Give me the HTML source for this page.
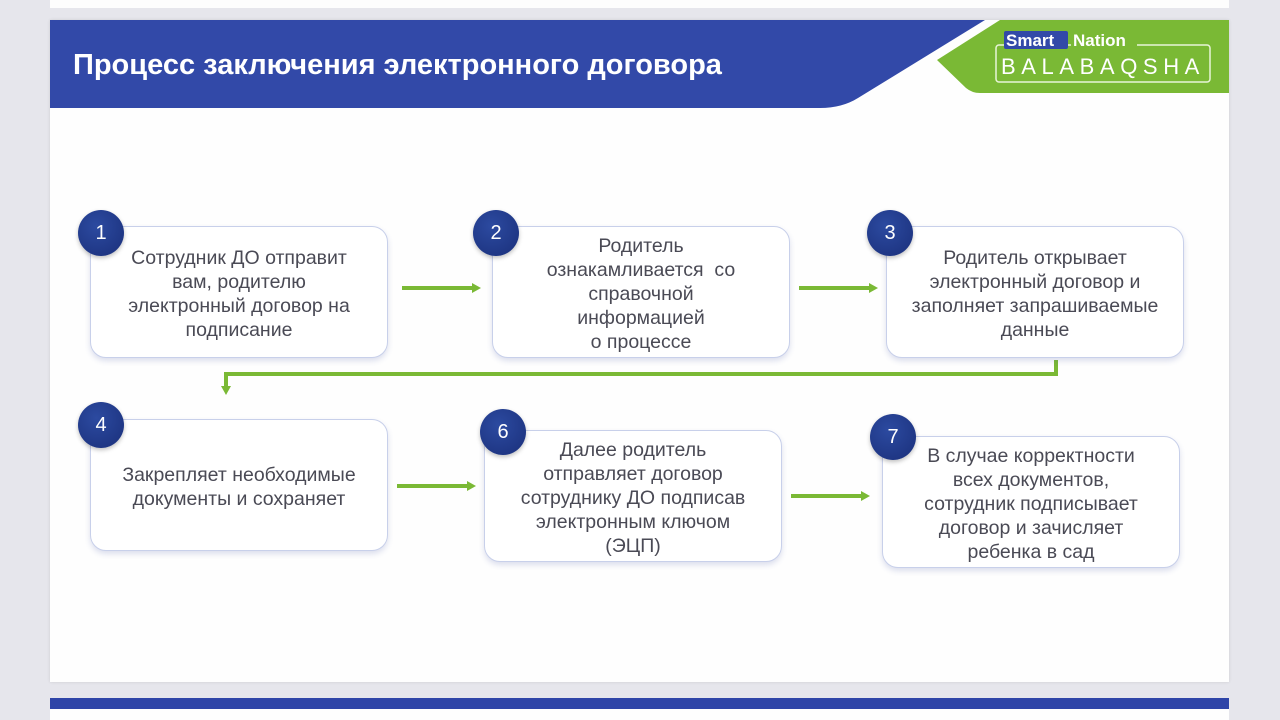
<!DOCTYPE html>
<html><head><meta charset="utf-8"><style>
*{margin:0;padding:0;box-sizing:border-box}
body{width:1280px;height:720px;background:#e6e6ec;position:relative;overflow:hidden;font-family:"Liberation Sans",sans-serif}
.top{position:absolute;left:50px;top:0;width:1179px;height:8px;background:#fdfdfd}
.slide{position:absolute;left:50px;top:20px;width:1179px;height:662px;background:#fefefe;box-shadow:0 0 3px rgba(0,0,0,.12)}
.bot{position:absolute;left:50px;top:698px;width:1179px;height:22px;background:#fefefe}
.band{position:absolute;left:50px;top:698px;width:1179px;height:11px;background:#2f45a8}
.title{position:absolute;left:73px;top:49px;color:#fff;font-weight:bold;font-size:29px;white-space:nowrap}
.box{position:absolute;width:298px;height:132px;border:1.5px solid #c8d0ea;border-radius:16px;background:#fff;box-shadow:0 3px 6px rgba(60,80,160,.18);display:flex;align-items:center;justify-content:center;text-align:center;color:#4a4a55;font-size:19.5px;line-height:24px;padding:4px 0 0;white-space:nowrap}
.c{position:absolute;width:46px;height:46px;border-radius:50%;background:radial-gradient(circle at 40% 35%,#2c4aa0,#1a2f7a);color:#fff;font-size:20px;display:flex;align-items:center;justify-content:center;box-shadow:0 2px 4px rgba(0,0,0,.25)}
</style></head><body>
<div class="top"></div>
<div class="slide"></div>
<div class="bot"></div><div class="band"></div>
<svg style="position:absolute;left:0;top:0" width="1280" height="720">
<path d="M50 20 L985 20 L858 98 Q842 108 820 108 L50 108 Z" fill="#3249a8"/>
<path d="M1000 20 L1229 20 L1229 93 L980 93 Q972 93 966 88 L937 60 Z" fill="#7ab935"/>
<rect x="996" y="45" width="214" height="37" rx="3" fill="none" stroke="#e8f5d8" stroke-width="1.5"/>
<rect x="1004" y="31" width="64" height="18" rx="2" fill="#3249a8"/>
<text x="1006" y="46" font-family="Liberation Sans" font-size="17" font-weight="bold" fill="#fff">Smart</text>
<rect x="1071" y="38" width="66" height="10" fill="#7ab935"/>
<text x="1073" y="46" font-family="Liberation Sans" font-size="17" font-weight="bold" fill="#fff">Nation</text>
<text x="1001" y="74" font-family="Liberation Sans" font-size="22" fill="#fff" letter-spacing="5.6">BALABAQSHA</text>
<g stroke="#7ab935" stroke-width="4" fill="none">
<line x1="402" y1="288" x2="474" y2="288"/>
<line x1="799" y1="288" x2="871" y2="288"/>
<line x1="397" y1="486" x2="469" y2="486"/>
<line x1="791" y1="496" x2="863" y2="496"/>
<polyline points="1056,360 1056,374 226,374 226,387"/>
</g>
<g fill="#7ab935">
<path d="M472 283 L481 288 L472 293Z"/><path d="M869 283 L878 288 L869 293Z"/>
<path d="M467 481 L476 486 L467 491Z"/><path d="M861 491 L870 496 L861 501Z"/>
<path d="M221 386 L226 395 L231 386Z"/>
</g>
</svg>
<div class="title">Процесс заключения электронного договора</div>
<div class="box" style="left:90px;top:226px">Сотрудник ДО отправит<br>вам, родителю<br>электронный договор на<br>подписание</div>
<div class="box" style="left:492px;top:226px">Родитель<br>ознакамливается&nbsp; со<br>справочной<br>информацией<br>о процессе</div>
<div class="box" style="left:886px;top:226px">Родитель открывает<br>электронный договор и<br>заполняет запрашиваемые<br>данные</div>
<div class="box" style="left:90px;top:419px">Закрепляет необходимые<br>документы и сохраняет</div>
<div class="box" style="left:484px;top:430px">Далее родитель<br>отправляет договор<br>сотруднику ДО подписав<br>электронным ключом<br>(ЭЦП)</div>
<div class="box" style="left:882px;top:436px">В случае корректности<br>всех документов,<br>сотрудник подписывает<br>договор и зачисляет<br>ребенка в сад</div>
<div class="c" style="left:78px;top:210px">1</div>
<div class="c" style="left:473px;top:210px">2</div>
<div class="c" style="left:867px;top:210px">3</div>
<div class="c" style="left:78px;top:402px">4</div>
<div class="c" style="left:480px;top:409px">6</div>
<div class="c" style="left:870px;top:414px">7</div>
</body></html>
